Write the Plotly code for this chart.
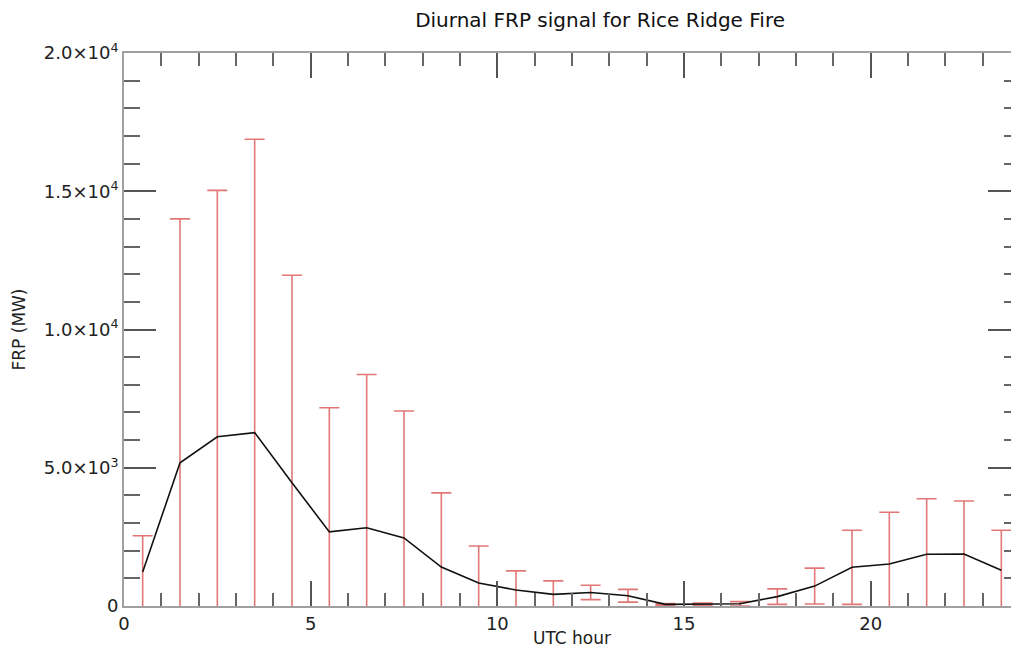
import plotly.graph_objects as go

hours = [0.5, 1.5, 2.5, 3.5, 4.5, 5.5, 6.5, 7.5, 8.5, 9.5, 10.5, 11.5,
         12.5, 13.5, 14.5, 15.5, 16.5, 17.5, 18.5, 19.5, 20.5, 21.5, 22.5, 23.5]
frp_mean = [1230, 5180, 6120, 6270, 4460, 2680, 2830, 2460, 1410, 830, 580, 420,
            490, 370, 60, 70, 80, 340, 720, 1400, 1520, 1870, 1880, 1290]
frp_std = [1310, 8820, 8910, 10610, 7500, 4490, 5540, 4590, 2680, 1340, 690, 490,
           260, 230, 30, 40, 80, 280, 650, 1340, 1870, 2010, 1920, 1450]

ytick_vals = [0, 5000, 10000, 15000, 20000]
ytick_text = ["0", "5.0×10<sup>3</sup>", "1.0×10<sup>4</sup>", "1.5×10<sup>4</sup>", "2.0×10<sup>4</sup>"]
xtick_vals = [0, 5, 10, 15, 20]

FONT = "DejaVu Sans"

fig = go.Figure()
fig.add_trace(go.Scatter(
    x=hours, y=frp_mean, mode="lines",
    line=dict(color="#111111", width=1.6),
    error_y=dict(type="data", array=frp_std, symmetric=True,
                 color="rgba(220,95,95,0.85)", thickness=1.6, width=10),
    showlegend=False,
))

axis_common = dict(
    showgrid=False, zeroline=False, showline=True, linecolor="#a0a0a0", linewidth=2,
    mirror="ticks", ticks="inside", tickcolor="#555555", tickwidth=1.5,
    tickfont=dict(family=FONT, size=18, color="#222222"),
)

fig.update_xaxes(
    range=[0, 24], tickvals=xtick_vals, ticklen=25,
    minor=dict(dtick=1, ticklen=13, ticks="inside", tickcolor="#666666", tickwidth=1.5),
    title=dict(text="UTC hour", font=dict(family=FONT, size=17, color="#222222"), standoff=0),
    **axis_common,
)
fig.update_yaxes(
    range=[0, 20000], tickvals=ytick_vals, ticktext=ytick_text, ticklen=32,
    minor=dict(dtick=1000, ticklen=16, ticks="inside", tickcolor="#666666", tickwidth=1.5),
    title=dict(text="FRP (MW)", font=dict(family=FONT, size=17, color="#222222"), standoff=14),
    **axis_common,
)

fig.update_layout(
    width=1024, height=650,
    margin=dict(l=124, r=2, t=53, b=44),
    paper_bgcolor="white", plot_bgcolor="white",
    title=dict(text="Diurnal FRP signal for Rice Ridge Fire", x=0.586, xanchor="center",
               y=0.969, yanchor="middle",
               font=dict(family=FONT, size=20, color="#111111")),
)

fig.write_html(
    "out.html",
    config={"displayModeBar": False},
    post_script="document.body.style.margin='0';document.body.style.overflow='hidden';"
                "document.documentElement.style.overflow='hidden';",
)
